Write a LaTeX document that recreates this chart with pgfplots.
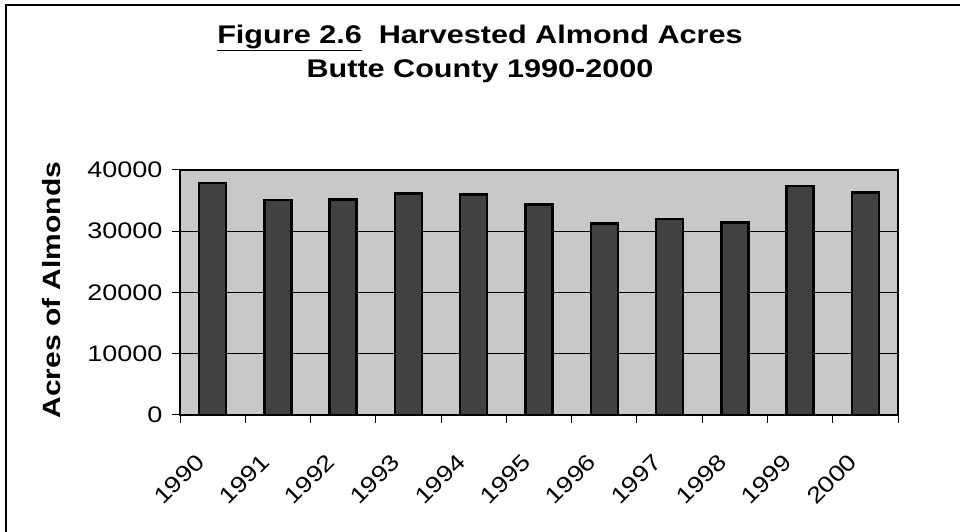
\documentclass[border=0pt]{standalone}
\usepackage{pgfplots}
\pgfplotsset{compat=1.18}
\usepackage{fontspec}
\setmainfont{Liberation Sans}[FakeStretch=1.2]
\definecolor{plotbg}{RGB}{200,200,200}
\definecolor{barfill}{RGB}{65,65,65}
\begin{document}
\begin{tikzpicture}[x=1pt,y=1pt]
\path[use as bounding box] (0,0) rectangle (960,532);
\draw[line width=1.8pt] (6,0) -- (6,527) -- (960,527);
\node[font=\fontsize{25.5}{30}\selectfont\bfseries] at (480,494) {\underline{Figure 2.6}\ \ Harvested Almond Acres};
\node[font=\fontsize{25.5}{30}\selectfont\bfseries] at (480,461) {Butte County 1990-2000};
\node[font=\fontsize{25}{30}\selectfont\bfseries, rotate=90] at (52,242) {Acres of Almonds};
\begin{axis}[
  at={(180pt,117pt)}, anchor=south west,
  width=718pt, height=245pt, scale only axis,
  xmin=-0.5, xmax=10.5, ymin=0, ymax=40000,
  axis background/.style={fill=plotbg},
  axis line style={line width=1.5pt},
  xtick={0,...,10},
  xticklabels={1990,1991,1992,1993,1994,1995,1996,1997,1998,1999,2000},
  minor xtick={-0.5,0.5,...,10.5},
  major x tick style={draw=none},
  minor tick length=8pt,
  major tick length=8pt,
  tick align=outside,
  tick style={black, line width=1pt},
  xtick pos=bottom, ytick pos=left,
  ytick={0,10000,20000,30000,40000},
  ymajorgrids, grid style={black, line width=1pt},
  scaled y ticks=false,
  /pgf/number format/1000 sep={},
  /pgf/number format/assume math mode=true,
  ticklabel style={font=\fontsize{22.5}{26}\selectfont},
  xticklabel style={anchor=north east, xshift=-18pt, yshift=-29pt, rotate=45, inner sep=0pt},
  yticklabel style={xshift=-6pt},
  ybar, bar width=27pt,
]
\addplot[fill=barfill, draw=black, line width=2.5pt] coordinates {
(0,37900) (1,35100) (2,35200) (3,36200) (4,36000) (5,34400)
(6,31300) (7,32000) (8,31400) (9,37400) (10,36300)};
\end{axis}
\end{tikzpicture}
\end{document}
